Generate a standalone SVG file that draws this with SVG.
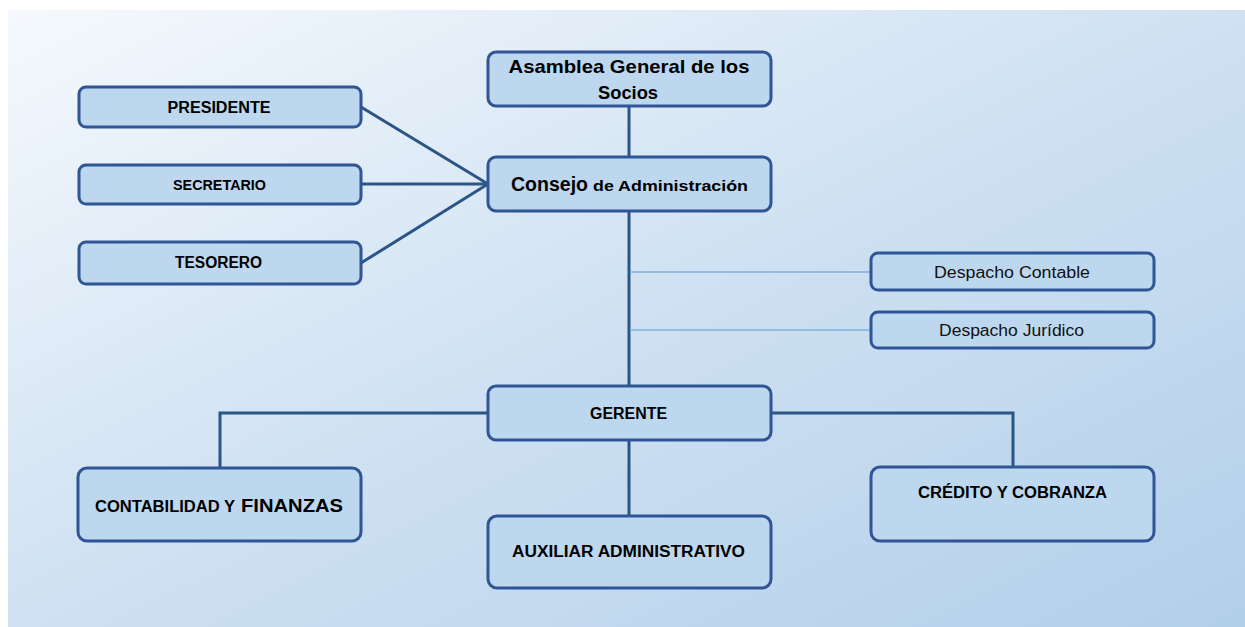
<svg xmlns="http://www.w3.org/2000/svg" width="1245" height="627" viewBox="0 0 1245 627">
  <defs>
    <linearGradient id="bg" x1="0" y1="0" x2="1" y2="1">
      <stop offset="0" stop-color="#f5f9fd"/>
      <stop offset="0.5" stop-color="#cfe1f2"/>
      <stop offset="1" stop-color="#b2cfea"/>
    </linearGradient>
    <style>
      .box { fill: #bdd7ee; stroke: #2f5597; stroke-width: 3; }
      .conn { fill: none; stroke: #2b5584; stroke-width: 3; }
      .thin { fill: none; stroke: #7eb0e0; stroke-width: 1.5; }
      .t { font-family: "Liberation Sans", Arial, sans-serif; font-weight: bold; fill: #000; text-anchor: middle; dominant-baseline: central; }
      .n { font-family: "Liberation Sans", Arial, sans-serif; fill: #111; text-anchor: middle; dominant-baseline: central; }
    </style>
  </defs>
  <rect x="0" y="0" width="1245" height="627" fill="#ffffff"/>
  <rect x="8" y="10" width="1237" height="617" fill="url(#bg)"/>

  <g id="connectors">
    <line class="conn" x1="629" y1="106" x2="629" y2="157"/>
    <line class="conn" x1="629" y1="211" x2="629" y2="386"/>
    <line class="conn" x1="361" y1="107" x2="488" y2="184"/>
    <line class="conn" x1="361" y1="184" x2="488" y2="184"/>
    <line class="conn" x1="361" y1="263" x2="488" y2="184"/>
    <line class="thin" x1="630" y1="272" x2="871" y2="272"/>
    <line class="thin" x1="630" y1="330" x2="871" y2="330"/>
    <polyline class="conn" points="488,413 220,413 220,468"/>
    <polyline class="conn" points="771,413 1013,413 1013,467"/>
    <line class="conn" x1="629" y1="440" x2="629" y2="516"/>
  </g>

  <g id="asamblea">
    <rect class="box" x="488" y="52" width="283" height="54" rx="8"/>
    <text class="t" x="629" y="66" font-size="19" textLength="241" lengthAdjust="spacingAndGlyphs">Asamblea General de los</text>
    <text class="t" x="628" y="92" font-size="19" textLength="60" lengthAdjust="spacingAndGlyphs">Socios</text>
  </g>
  <g id="consejo">
    <rect class="box" x="488" y="157" width="283" height="54" rx="8"/>
    <text class="t" x="549.5" y="184" font-size="20" textLength="77" lengthAdjust="spacingAndGlyphs">Consejo</text>
    <text class="t" x="670.5" y="185" font-size="15" textLength="155" lengthAdjust="spacingAndGlyphs">de Administración</text>
  </g>
  <g id="presidente">
    <rect class="box" x="79" y="87" width="282" height="40" rx="7"/>
    <text class="t" x="219" y="107" font-size="16" textLength="103" lengthAdjust="spacingAndGlyphs">PRESIDENTE</text>
  </g>
  <g id="secretario">
    <rect class="box" x="79" y="165" width="282" height="39" rx="7"/>
    <text class="t" x="219.5" y="185" font-size="14" textLength="93" lengthAdjust="spacingAndGlyphs">SECRETARIO</text>
  </g>
  <g id="tesorero">
    <rect class="box" x="79" y="242" width="282" height="42" rx="7"/>
    <text class="t" x="218.5" y="262" font-size="16" textLength="87" lengthAdjust="spacingAndGlyphs">TESORERO</text>
  </g>
  <g id="despacho-contable">
    <rect class="box" x="871" y="253" width="283" height="37" rx="7"/>
    <text class="n" x="1012" y="272" font-size="16" textLength="156" lengthAdjust="spacingAndGlyphs">Despacho Contable</text>
  </g>
  <g id="despacho-juridico">
    <rect class="box" x="871" y="312" width="283" height="36" rx="7"/>
    <text class="n" x="1011.5" y="330" font-size="16" textLength="145" lengthAdjust="spacingAndGlyphs">Despacho Jurídico</text>
  </g>
  <g id="gerente">
    <rect class="box" x="488" y="386" width="283" height="54" rx="8"/>
    <text class="t" x="628.5" y="413" font-size="16" textLength="77" lengthAdjust="spacingAndGlyphs">GERENTE</text>
  </g>
  <g id="contabilidad">
    <rect class="box" x="78" y="468" width="283" height="73" rx="9"/>
    <text class="t" x="165" y="506" font-size="16" textLength="140" lengthAdjust="spacingAndGlyphs">CONTABILIDAD Y</text>
    <text class="t" x="292" y="505" font-size="19" textLength="102" lengthAdjust="spacingAndGlyphs">FINANZAS</text>
  </g>
  <g id="auxiliar">
    <rect class="box" x="488" y="516" width="283" height="72" rx="9"/>
    <text class="t" x="628.5" y="551" font-size="16" textLength="233" lengthAdjust="spacingAndGlyphs">AUXILIAR ADMINISTRATIVO</text>
  </g>
  <g id="credito">
    <rect class="box" x="871" y="467" width="283" height="74" rx="9"/>
    <text class="t" x="1012.5" y="492" font-size="16" textLength="189" lengthAdjust="spacingAndGlyphs">CRÉDITO Y COBRANZA</text>
  </g>
</svg>
